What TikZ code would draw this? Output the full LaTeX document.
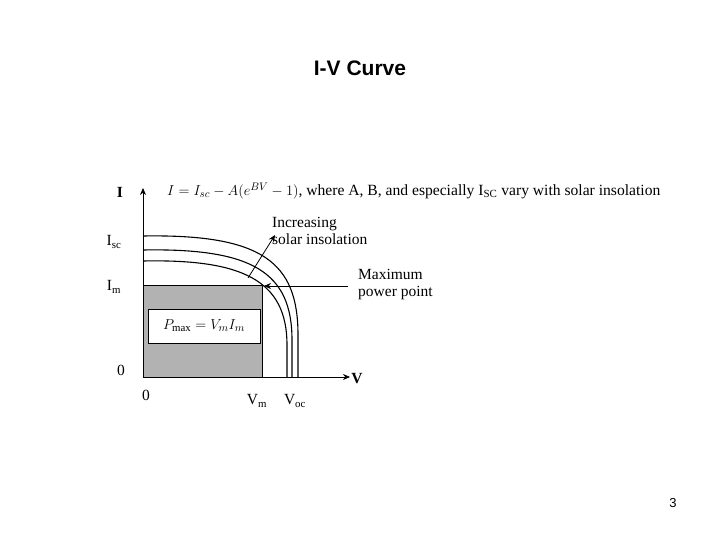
\documentclass[tikz,border=0pt]{standalone}
\usepackage{fontspec}
\setmainfont{Liberation Serif}
\newfontfamily\arial{Liberation Sans}
\usetikzlibrary{arrows.meta}
\begin{document}
\begin{tikzpicture}[x=1pt,y=-1pt,
  curve/.style={line width=1.1pt},
  lab/.style={font=\fontsize{15.5}{17}\selectfont, inner sep=1pt},
  arr/.style={-{Stealth[length=7pt,width=6pt]}, line width=0.8pt}]
\useasboundingbox[fill=white] (0,0) rectangle (720,540);
\node[font=\arial\bfseries\fontsize{21}{23}\selectfont] (title) at (360,68) {I-V Curve};
\node[font=\arial\fontsize{13}{14}\selectfont] (pg) at (673,503) {3};
\fill[black!30] (143,285) rectangle (262,377);
\draw[line width=0.8pt] (143,285) -- (262,285) -- (262,377);
\node[draw, fill=white, line width=0.8pt, minimum width=112pt, minimum height=34pt] (pm) at (204,326) {\fontsize{15.5}{17}\selectfont$P_{\max}=V_m I_m$};
\coordinate (o) at (143,377);
\coordinate (ytop) at (143,188);
\coordinate (xend) at (350,377);
\draw[arr] (o) -- (ytop);
\draw[arr] (o) -- (xend);
\draw[curve] (143,236) .. controls (262,234) and (298,262) .. (298,335) -- (298,377);
\draw[curve] (143,250) .. controls (252,248) and (292,272) .. (292,340) -- (292,377);
\draw[curve] (143,261) .. controls (242,259) and (287,280) .. (287,345) -- (287,377);
\node[lab, font=\fontsize{15.6}{17}\selectfont, anchor=west] (eq) at (166,191) {$I=I_{sc}-A(e^{BV}-1)$, where A, B, and especially I$_{\mathrm{SC}}$ vary with solar insolation};
\node[lab, align=left, anchor=west] (inc) at (271,231) {Increasing\\solar insolation};
\coordinate (ia) at (248,278);
\coordinate (ib) at (275,235);
\draw[arr] (ia) -- (ib);
\node[lab, align=left, anchor=west] (mpp) at (357,285) {Maximum\\power point};
\coordinate (ma) at (348,286);
\coordinate (mb) at (264,286);
\draw[arr, line width=0.6pt] (ma) -- (mb);
\node[lab, font=\bfseries\fontsize{15.5}{17}\selectfont] (Il) at (120,192) {I};
\node[lab] (Isc) at (114,242) {I$_{\mathrm{sc}}$};
\node[lab] (Im) at (114,287) {I$_{\mathrm{m}}$};
\node[lab] (z1) at (121,370) {0};
\node[lab] (z2) at (146,395) {0};
\node[lab] (Vm) at (257,401) {V$_{\mathrm{m}}$};
\node[lab] (Voc) at (295,401) {V$_{\mathrm{oc}}$};
\node[lab, font=\bfseries\fontsize{15.5}{17}\selectfont] (Vl) at (357,379) {V};
\end{tikzpicture}
\end{document}
